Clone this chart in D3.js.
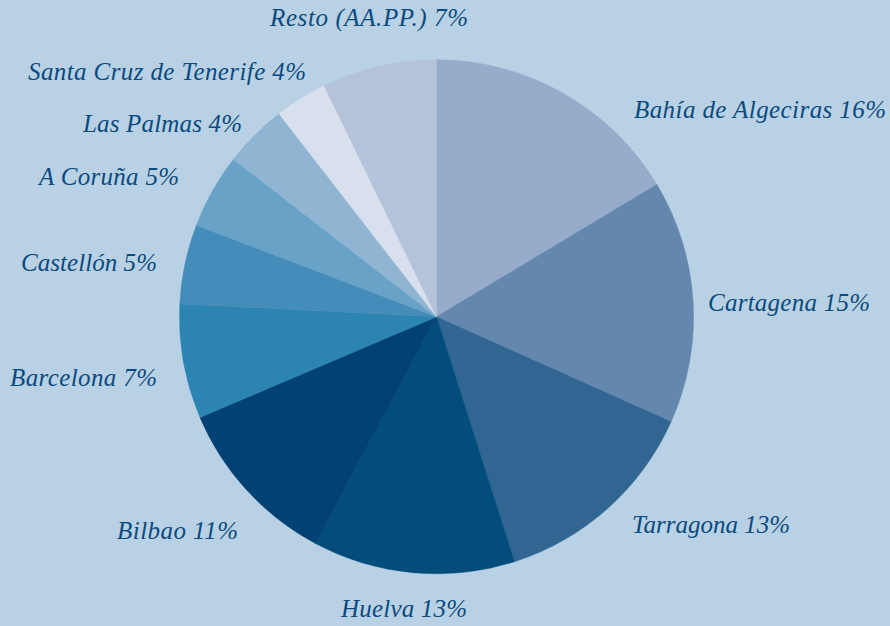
<!DOCTYPE html>
<html>
<head>
<meta charset="utf-8">
<script src="https://cdn.jsdelivr.net/npm/d3@7"></script>
<style>
  html, body { margin: 0; padding: 0; background: #b9d1e4; }
  svg { display: block; }
</style>
</head>
<body>
<svg id="chart" width="890" height="626"></svg>
<script>
// ports, clockwise from 12 o'clock
var ports = ["Bahía de Algeciras", "Cartagena", "Tarragona", "Huelva", "Bilbao", "Barcelona",
             "Castellón", "A Coruña", "Las Palmas", "Santa Cruz de Tenerife", "Resto (AA.PP.)"]
// share of total
var shares = [16.4, 15.3, 13.4, 12.7, 10.8, 7.2, 5.0, 4.7, 4.0, 3.3, 7.2]
// printed percentage in the labels
var printed = [16, 15, 13, 13, 11, 7, 5, 5, 4, 4, 7]

var colors = ["#97abca", "#6487ae", "#316693", "#024d7c", "#024173", "#2b84b1",
              "#448cb9", "#68a2c6", "#8fb5d2", "#d8dfed", "#b4c3da"]

// label anchors (left x, baseline y, text width) - laid out by hand like the original
var labelPos = [[634, 118, 252], [708, 311, 162], [632, 533, 158], [341, 617, 126], [117, 539, 121],
                [10, 386, 147], [21, 271, 136], [39, 185, 140], [83, 132, 159], [28, 80, 278], [270, 26, 198]]

var width = 890, height = 626,
    cx = 436.5, cy = 316.8, radius = 257

var svg = d3.select("#chart")

svg.append("rect")
    .attr("width", width)
    .attr("height", height)
    .attr("fill", "#b9d1e4")

var pie = d3.pie()
    .sort(null)
    .value(function(d) { return d })

var arc = d3.arc()
    .innerRadius(0)
    .outerRadius(radius)

var chartArea = svg.append("g")
    .attr("transform", "translate(" + cx + "," + cy + ")")

chartArea.selectAll(".slice")
    .data(pie(shares))
    .enter()
    .append("path")
    .attr("class", "slice")
    .attr("d", arc)
    .attr("fill", function(d, i) { return colors[i] })
    .attr("stroke", function(d, i) { return colors[i] })
    .attr("stroke-width", 0.5)

svg.append("g").selectAll(".lbl")
    .data(ports)
    .enter()
    .append("text")
    .attr("class", "lbl")
    .attr("x", function(d, i) { return labelPos[i][0] })
    .attr("y", function(d, i) { return labelPos[i][1] })
    .attr("font-family", "Liberation Serif")
    .attr("font-style", "italic")
    .attr("font-size", "25px")
    .attr("fill", "#0b4a7e")
    .attr("textLength", function(d, i) { return labelPos[i][2] })
    .attr("lengthAdjust", "spacing")
    .text(function(d, i) { return d + " " + printed[i] + "%" })
</script>
</body>
</html>
